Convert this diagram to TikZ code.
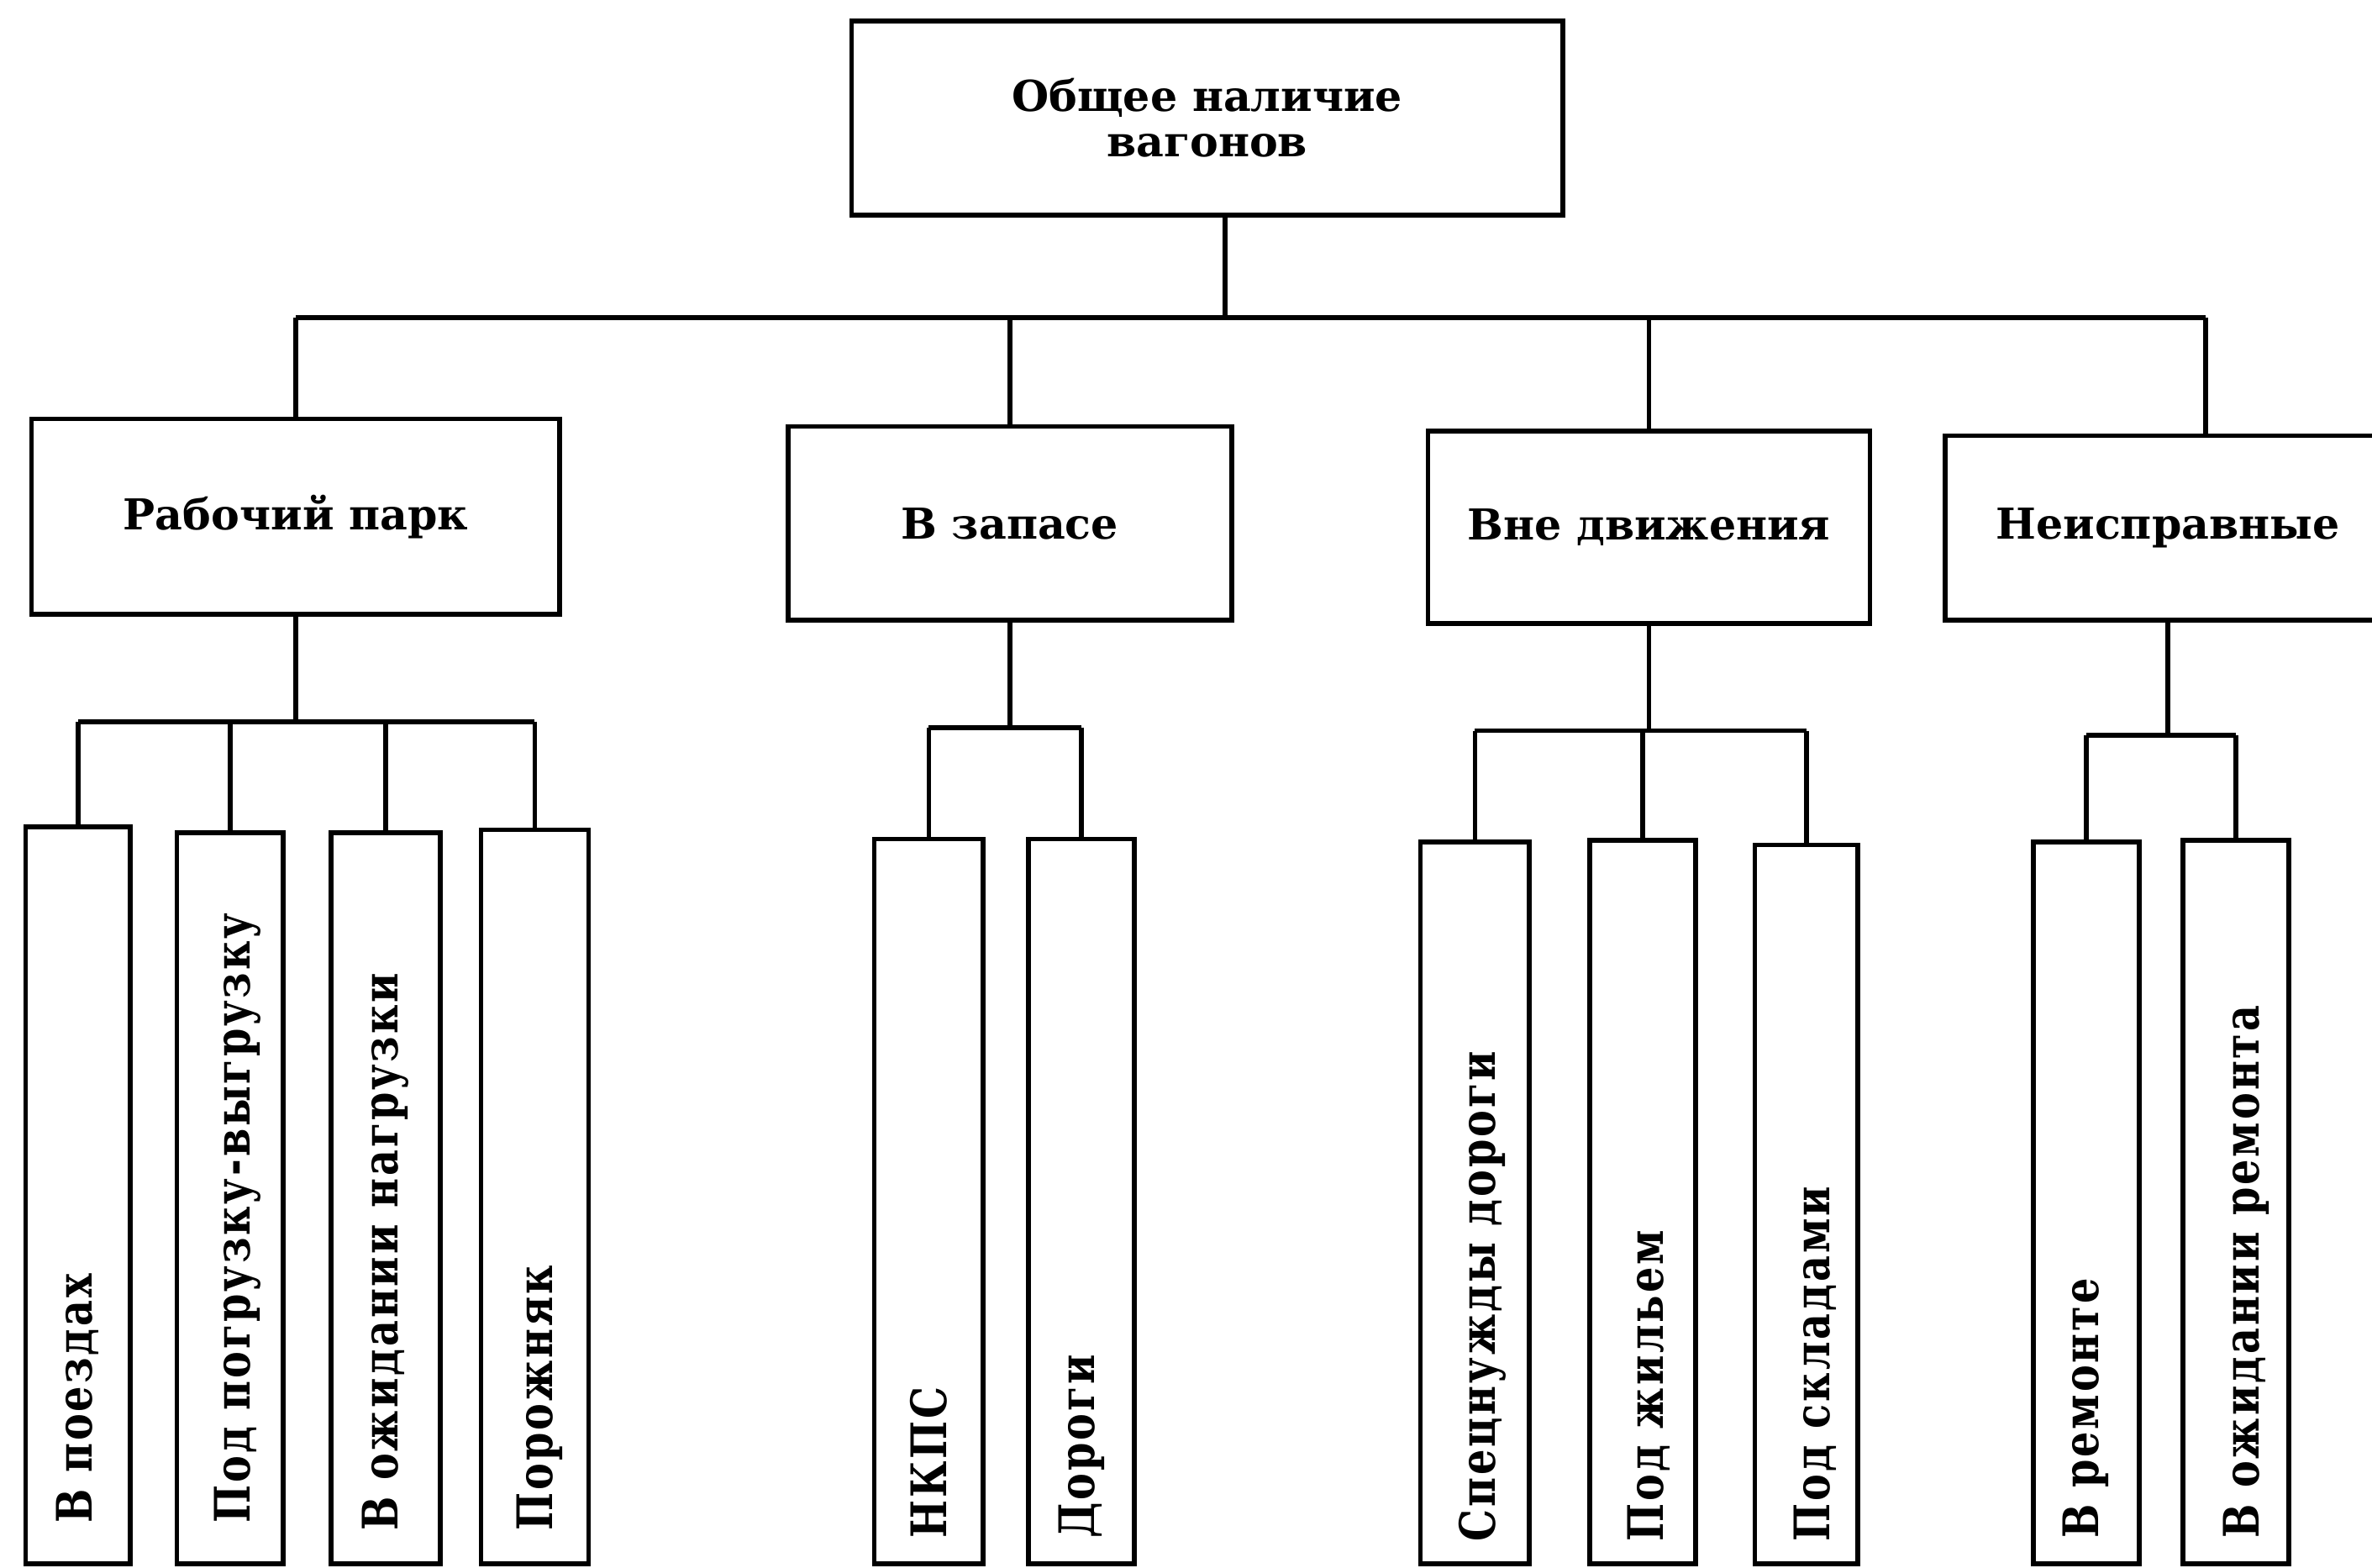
\documentclass[tikz,border=0pt]{standalone}
\usepackage{fontspec}
\setmainfont{DejaVu Serif}
\newfontfamily\vfont{DejaVu Serif}[FakeStretch=0.82,LetterSpace=5]
\begin{document}
\begin{tikzpicture}[x=0.01cm,y=-0.01cm,line width=0.9pt,
  hbox/.style={draw,inner sep=0pt,align=center,font=\bfseries\fontsize{8}{8.6}\selectfont},
  vbox/.style={draw,inner sep=0pt,anchor=north},
  vlab/.style={rotate=90,anchor=west,inner sep=0pt,font=\vfont\bfseries\fontsize{9.2}{10}\selectfont}]
\useasboundingbox (0,0) rectangle (1568,1036.4);
% top
\node[hbox,minimum width=4.70cm,minimum height=1.28cm] (top) at (798,78) {Общее наличие\\вагонов};
% level 2
\node[hbox,minimum width=3.49cm,minimum height=1.29cm] (n1) at (195.5,341.5) {Рабочий парк};
\node[hbox,minimum width=2.93cm,minimum height=1.28cm] (n2) at (667.5,346) {В запасе};
\node[hbox,minimum width=2.92cm,minimum height=1.27cm] (n3) at (1090,348.5) {Вне движения};
\node[hbox,minimum width=2.94cm,minimum height=1.22cm] (n4) at (1433,349) {Неисправные};
% level 3 boxes
\node[vbox,minimum width=0.69cm,minimum height=4.87cm] (b1) at (51.5,545) {};
\node[vbox,minimum width=0.70cm,minimum height=4.83cm] (b2) at (152,549) {};
\node[vbox,minimum width=0.72cm,minimum height=4.83cm] (b3) at (255,549) {};
\node[vbox,minimum width=0.71cm,minimum height=4.85cm] (b4) at (353.5,547) {};
\node[vbox,minimum width=0.72cm,minimum height=4.79cm] (b5) at (614,553) {};
\node[vbox,minimum width=0.70cm,minimum height=4.79cm] (b6) at (715,553) {};
\node[vbox,minimum width=0.72cm,minimum height=4.77cm] (b7) at (975,555) {};
\node[vbox,minimum width=0.70cm,minimum height=4.78cm] (b8) at (1086,554) {};
\node[vbox,minimum width=0.68cm,minimum height=4.75cm] (b9) at (1194,557) {};
\node[vbox,minimum width=0.70cm,minimum height=4.77cm] (b10) at (1379,555) {};
\node[vbox,minimum width=0.70cm,minimum height=4.78cm] (b11) at (1478,554) {};
% labels
\node[vlab] (t1) at ([yshift=0.27cm]b1.south) {В поездах};
\node[vlab] (t2) at ([xshift=0.05cm,yshift=0.27cm]b2.south) {Под погрузку-выгрузку};
\node[vlab] (t3) at ([yshift=0.22cm]b3.south) {В ожидании нагрузки};
\node[vlab] (t4) at ([xshift=0.03cm,yshift=0.22cm]b4.south) {Порожняк};
\node[vlab] (t5) at ([yshift=0.17cm]b5.south) {НКПС};
\node[vlab] (t6) at ([yshift=0.17cm]b6.south) {Дороги};
\node[vlab] (t7) at ([xshift=0.05cm,yshift=0.15cm]b7.south) {Спецнужды дороги};
\node[vlab] (t8) at ([xshift=0.04cm,yshift=0.15cm]b8.south) {Под жильем};
\node[vlab] (t9) at ([xshift=0.06cm,yshift=0.15cm]b9.south) {Под складами};
\node[vlab] (t10) at ([yshift=0.17cm]b10.south) {В ремонте};
\node[vlab] (t11) at ([xshift=0.07cm,yshift=0.17cm]b11.south) {В ожидании ремонта};
% connectors level 1 -> 2
\coordinate (r0) at (0,210);
\coordinate (td) at ([xshift=0.12cm]top.south);
\coordinate (n4t) at ([xshift=0.25cm]n4.north);
\draw (td) -- (td |- r0);
\draw (n1.north |- r0) -- (n4t |- r0);
\draw (n1.north |- r0) -- (n1.north);
\draw (n2.north |- r0) -- (n2.north);
\draw (n3.north |- r0) -- (n3.north);
\draw (n4t |- r0) -- (n4t);
% level 2 -> 3
\coordinate (g1) at (0,477);
\coordinate (g2) at (0,481);
\coordinate (g3) at (0,483);
\coordinate (g4) at (0,486);
\draw (n1.south) -- (n1.south |- g1);
\draw (b1.north |- g1) -- (b4.north |- g1);
\foreach \b in {b1,b2,b3,b4} \draw (\b.north |- g1) -- (\b.north);
\draw (n2.south) -- (n2.south |- g2);
\draw (b5.north |- g2) -- (b6.north |- g2);
\foreach \b in {b5,b6} \draw (\b.north |- g2) -- (\b.north);
\draw (n3.south) -- (n3.south |- g3);
\draw (b7.north |- g3) -- (b9.north |- g3);
\foreach \b in {b7,b8,b9} \draw (\b.north |- g3) -- (\b.north);
\draw (n4.south) -- (n4.south |- g4);
\draw (b10.north |- g4) -- (b11.north |- g4);
\foreach \b in {b10,b11} \draw (\b.north |- g4) -- (\b.north);
\end{tikzpicture}
\end{document}
